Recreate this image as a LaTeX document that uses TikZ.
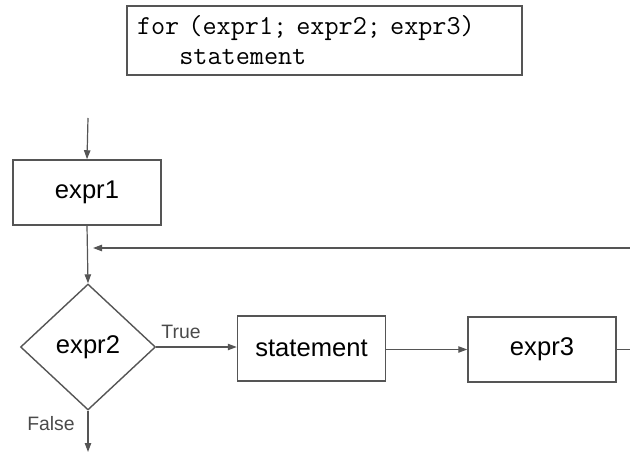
\documentclass[tikz,border=0pt]{standalone}
\usepackage{fontspec}
\setmainfont{Liberation Sans}
\usepackage{xcolor}
\usetikzlibrary{shapes.geometric,arrows.meta}

\definecolor{linegray}{HTML}{555555}
\definecolor{labelgray}{HTML}{4A4A4A}

\tikzset{
  stepbox/.style={rectangle, draw=linegray, line width=0.75pt, minimum width=74pt, minimum height=32.5pt, inner sep=0pt, font=\fontsize{12.8}{15}\selectfont},
  testbox/.style={diamond, draw=linegray, line width=0.7pt, minimum width=67.5pt, minimum height=63pt, inner sep=0pt, font=\fontsize{12.8}{15}\selectfont},
  flow/.style={color=linegray, line width=0.6pt, -{Triangle[length=4.5pt,width=3.2pt]}},
  branch/.style={text=labelgray, font=\fontsize{9.7}{11}\selectfont}
}

\begin{document}
\begin{tikzpicture}[x=0.5pt, y=-0.5pt]
\useasboundingbox (0,0) rectangle (630,454);

\node[rectangle, draw=linegray, line width=0.6pt, minimum width=197.5pt, minimum height=33.5pt, text width=187.5pt, inner sep=5pt, align=left, font=\ttfamily\fontsize{13.7}{15}\selectfont] (code) at (324.5,40.5) {for (expr1; expr2; expr3)\\\phantom{for}statement};

\coordinate (start) at (88,118);
\node[stepbox] (expr1) at (87,192.5) {expr1};
\coordinate (loop) at (88,248);
\coordinate (back) at (630,248);
\node[testbox] (expr2) at (88,347) {expr2};
\node[stepbox] (stmt) at (311.5,348.5) {statement};
\node[stepbox] (expr3) at (542,349.5) {expr3};
\coordinate (out) at (630,349.5);
\coordinate (exit) at (88,452);

\node[branch] (true) at (181,332) {True};
\node[branch] (false) at (51,424) {False};

\path[flow] (start) edge (expr1.north);
\path[flow] (expr1.south) edge (expr2.north);
\path[flow, shorten >=2.5pt] (back) edge (loop);
\path[flow] (expr2.east) edge (expr2.east -| stmt.west);
\path[flow] (stmt.east |- expr3.west) edge (expr3.west);
\draw[linegray, line width=0.6pt] (expr3.east) -- (out);
\path[flow] (expr2.south) edge (exit);

\end{tikzpicture}
\end{document}
